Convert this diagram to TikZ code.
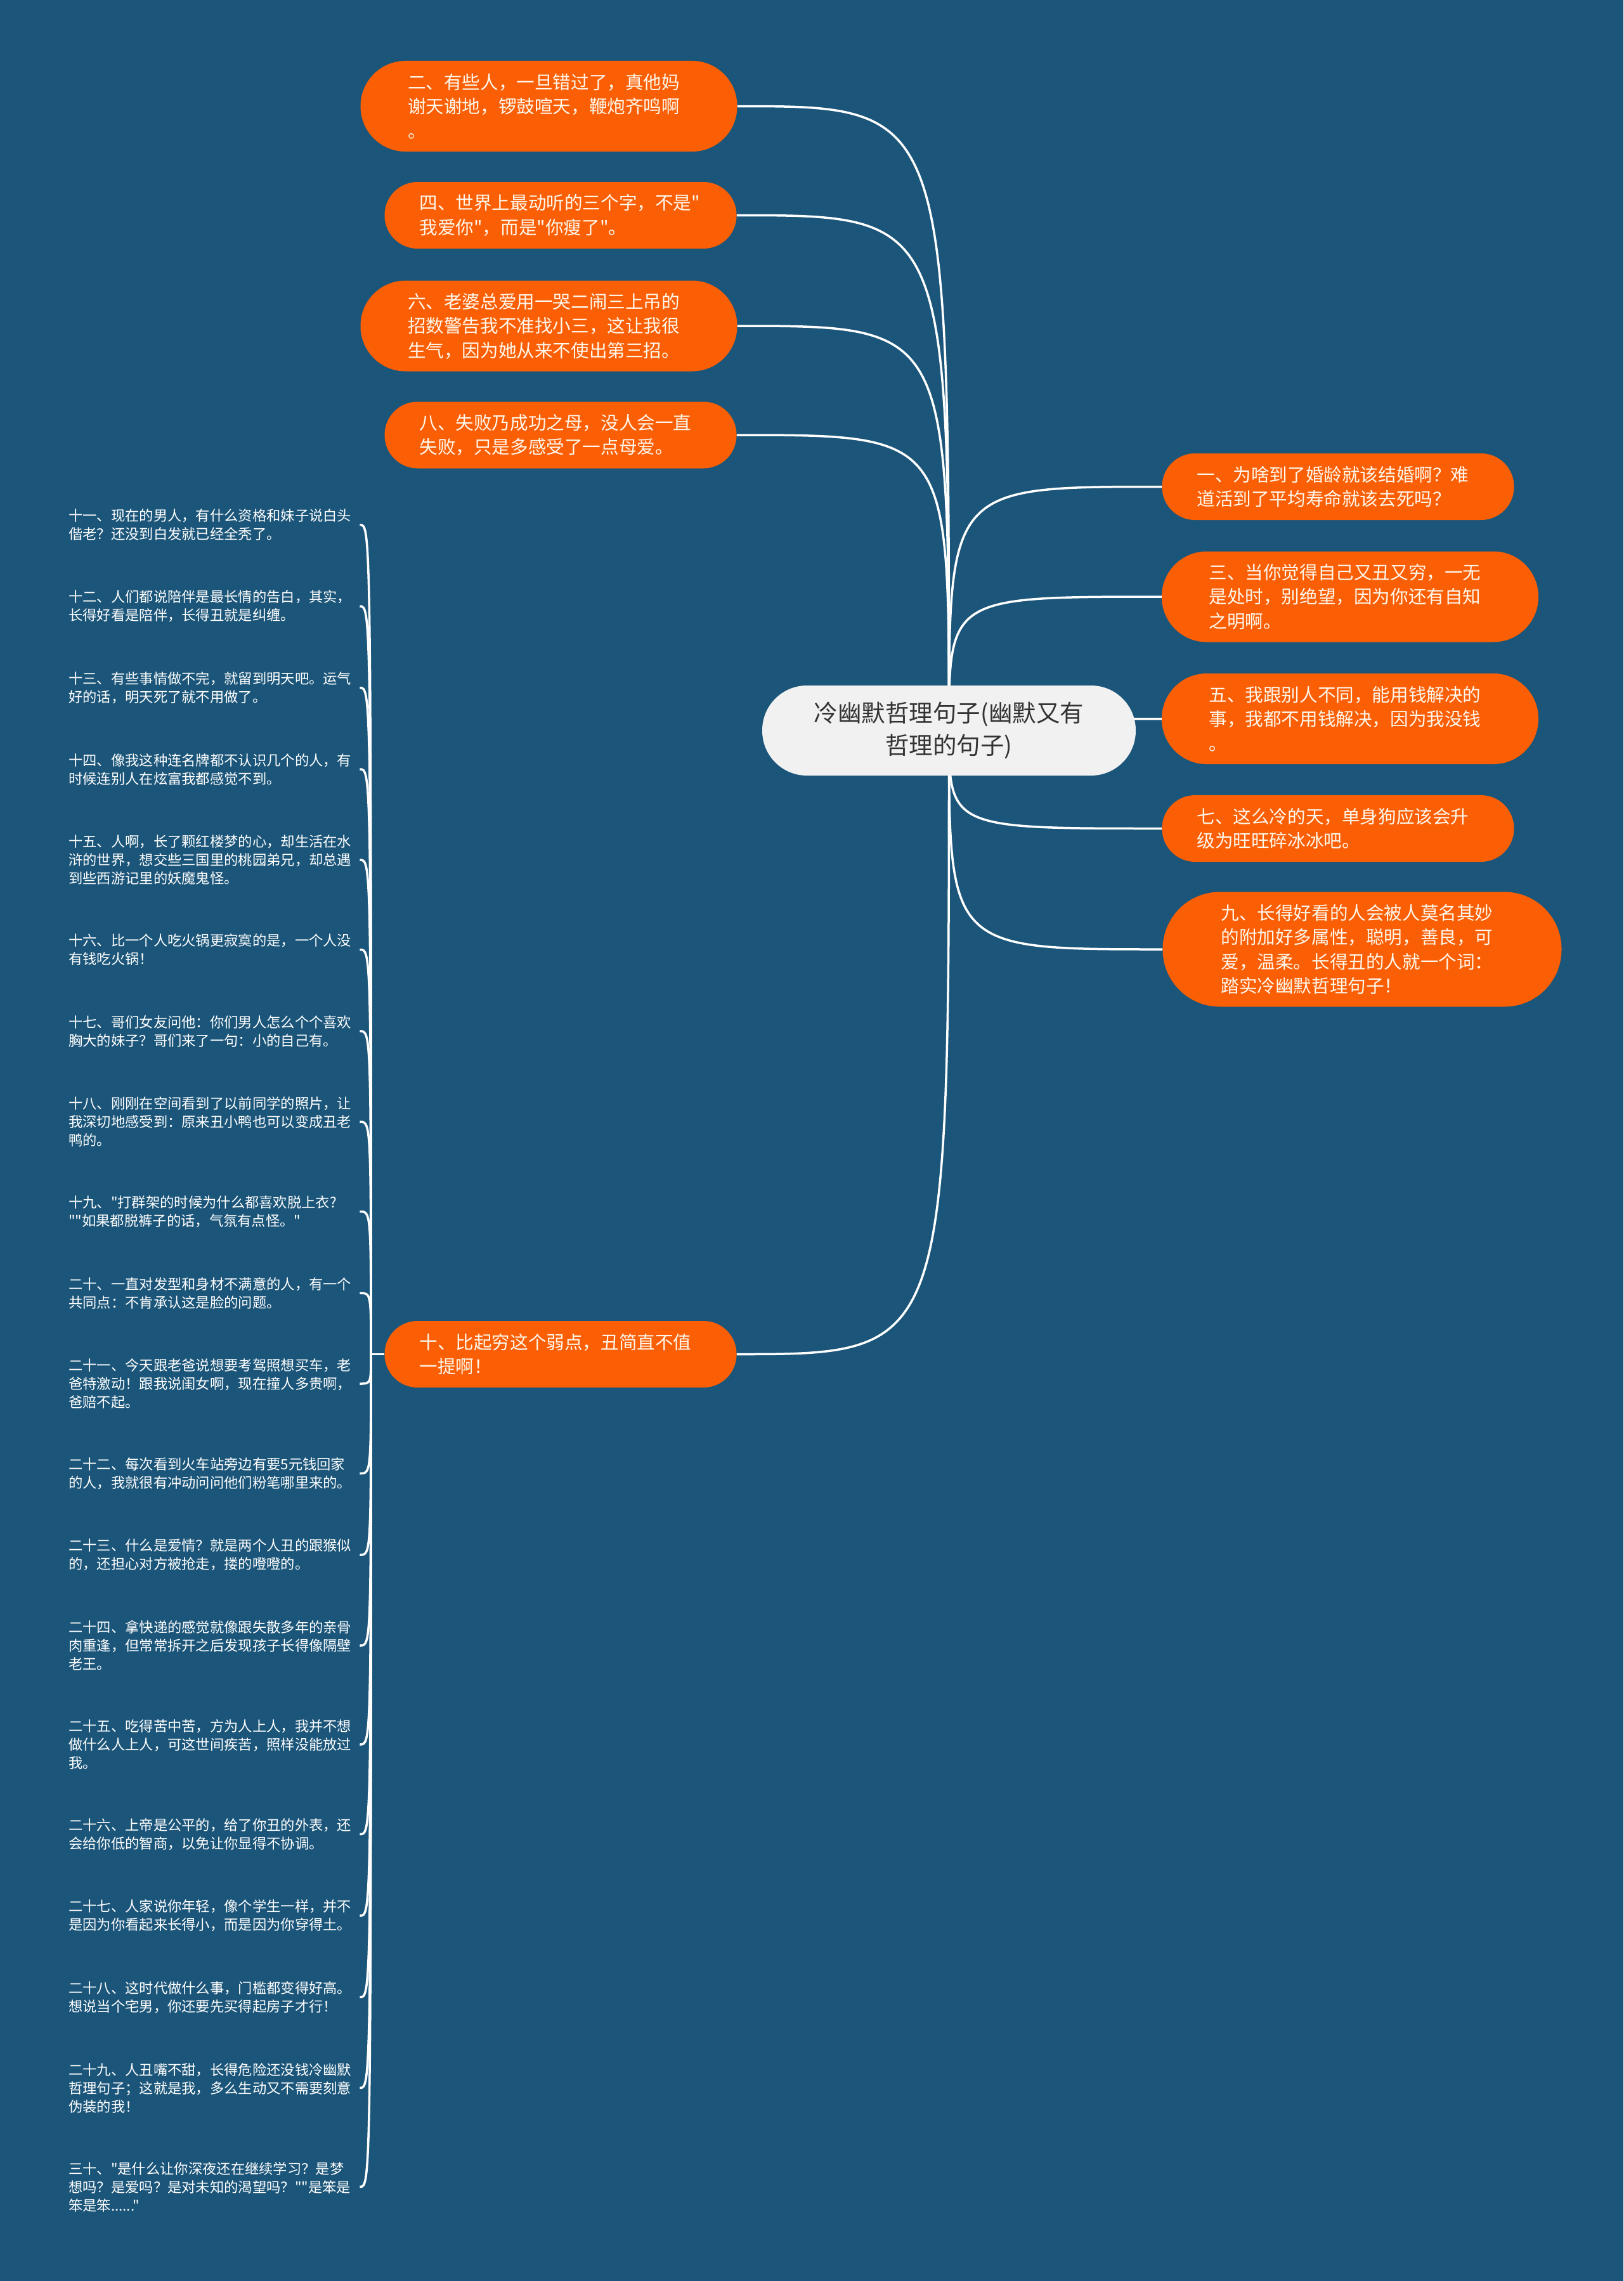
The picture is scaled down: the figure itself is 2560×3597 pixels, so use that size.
\documentclass[tikz,border=0pt]{standalone}
\usepackage{fontspec}
\setmainfont{Noto Sans CJK SC}[Ligatures=TeXOff]
\definecolor{bgblue}{HTML}{1B5579}
\definecolor{orfill}{HTML}{FA5F05}
\definecolor{ortext}{HTML}{FFF7EC}
\definecolor{cfill}{HTML}{F1F1F1}
\definecolor{ctext}{HTML}{333333}
\pgfdeclarelayer{bg}
\pgfsetlayers{bg,main}
\begin{document}
\begin{tikzpicture}[x=1pt,y=-1pt,
  obox/.style={fill=orfill, text=ortext, font=\fontsize{28.6}{38.5}\selectfont, align=left, text width=445pt, inner sep=0pt},
  oboxtwo/.style={obox, minimum width=555pt, minimum height=105pt, rounded corners=52pt},
  oboxthree/.style={obox, minimum width=594pt, minimum height=143pt, rounded corners=71pt},
  oboxfour/.style={obox, minimum width=629pt, minimum height=181pt, rounded corners=90pt},
  cbox/.style={fill=cfill, text=ctext, font=\fontsize{37.5}{51}\selectfont, align=center, text width=480pt, inner sep=0pt, minimum width=589pt, minimum height=142pt, rounded corners=70.5pt},
  item/.style={text=white, font=\fontsize{22.3}{29}\selectfont, align=left, text width=459pt, inner sep=0pt, anchor=west},
  conn/.style={draw=white, line width=3.5pt}
]
\useasboundingbox (0,0) rectangle (2560,3597);

% centre
\node[cbox] (c) at (1496.5,1152) {冷幽默哲理句子(幽默又有\\哲理的句子)};

% left upper
\node[oboxthree] (n2) at (865.5,167.5) {二、有些人，一旦错过了，真他妈\\谢天谢地，锣鼓喧天，鞭炮齐鸣啊\\。};
\node[oboxtwo] (n4) at (884,339.5) {四、世界上最动听的三个字，不是"\\我爱你"，而是"你瘦了"。};
\node[oboxthree] (n6) at (865.5,514) {六、老婆总爱用一哭二闹三上吊的\\招数警告我不准找小三，这让我很\\生气，因为她从来不使出第三招。};
\node[oboxtwo] (n8) at (884,686) {八、失败乃成功之母，没人会一直\\失败，只是多感受了一点母爱。};
\node[oboxtwo] (n10) at (884,2135.5) {十、比起穷这个弱点，丑简直不值\\一提啊！};

% right
\node[oboxtwo] (n1) at (2110,767.5) {一、为啥到了婚龄就该结婚啊？难\\道活到了平均寿命就该去死吗？};
\node[oboxthree] (n3) at (2129,941) {三、当你觉得自己又丑又穷，一无\\是处时，别绝望，因为你还有自知\\之明啊。};
\node[oboxthree] (n5) at (2129,1133.5) {五、我跟别人不同，能用钱解决的\\事，我都不用钱解决，因为我没钱\\。};
\node[oboxtwo] (n7) at (2110,1306.5) {七、这么冷的天，单身狗应该会升\\级为旺旺碎冰冰吧。};
\node[oboxfour] (n9) at (2148,1497) {九、长得好看的人会被人莫名其妙\\的附加好多属性，聪明，善良，可\\爱，温柔。长得丑的人就一个词：\\踏实冷幽默哲理句子！};

% left list
\node[item] (i11) at (108,827.5) {十一、现在的男人，有什么资格和妹子说白头\\偕老？还没到白发就已经全秃了。};
\node[item] (i12) at (108,956) {十二、人们都说陪伴是最长情的告白，其实，\\长得好看是陪伴，长得丑就是纠缠。};
\node[item] (i13) at (108,1084.5) {十三、有些事情做不完，就留到明天吧。运气\\好的话，明天死了就不用做了。};
\node[item] (i14) at (108,1213) {十四、像我这种连名牌都不认识几个的人，有\\时候连别人在炫富我都感觉不到。};
\node[item] (i15) at (108,1356) {十五、人啊，长了颗红楼梦的心，却生活在水\\浒的世界，想交些三国里的桃园弟兄，却总遇\\到些西游记里的妖魔鬼怪。};
\node[item] (i16) at (108,1497.5) {十六、比一个人吃火锅更寂寞的是，一个人没\\有钱吃火锅！};
\node[item] (i17) at (108,1626) {十七、哥们女友问他：你们男人怎么个个喜欢\\胸大的妹子？哥们来了一句：小的自己有。};
\node[item] (i18) at (108,1769) {十八、刚刚在空间看到了以前同学的照片，让\\我深切地感受到：原来丑小鸭也可以变成丑老\\鸭的。};
\node[item] (i19) at (108,1910.5) {十九、"打群架的时候为什么都喜欢脱上衣?\\""如果都脱裤子的话，气氛有点怪。"};
\node[item] (i20) at (108,2039) {二十、一直对发型和身材不满意的人，有一个\\共同点：不肯承认这是脸的问题。};
\node[item] (i21) at (108,2182) {二十一、今天跟老爸说想要考驾照想买车，老\\爸特激动！跟我说闺女啊，现在撞人多贵啊，\\爸赔不起。};
\node[item] (i22) at (108,2323.5) {二十二、每次看到火车站旁边有要5元钱回家\\的人，我就很有冲动问问他们粉笔哪里来的。};
\node[item] (i23) at (108,2452) {二十三、什么是爱情？就是两个人丑的跟猴似\\的，还担心对方被抢走，搂的噔噔的。};
\node[item] (i24) at (108,2595) {二十四、拿快递的感觉就像跟失散多年的亲骨\\肉重逢，但常常拆开之后发现孩子长得像隔壁\\老王。};
\node[item] (i25) at (108,2751) {二十五、吃得苦中苦，方为人上人，我并不想\\做什么人上人，可这世间疾苦，照样没能放过\\我。};
\node[item] (i26) at (108,2892.5) {二十六、上帝是公平的，给了你丑的外表，还\\会给你低的智商，以免让你显得不协调。};
\node[item] (i27) at (108,3021) {二十七、人家说你年轻，像个学生一样，并不\\是因为你看起来长得小，而是因为你穿得土。};
\node[item] (i28) at (108,3149.5) {二十八、这时代做什么事，门槛都变得好高。\\想说当个宅男，你还要先买得起房子才行！};
\node[item] (i29) at (108,3292.5) {二十九、人丑嘴不甜，长得危险还没钱冷幽默\\哲理句子；这就是我，多么生动又不需要刻意\\伪装的我！};
\node[item] (i30) at (108,3448.5) {三十、"是什么让你深夜还在继续学习？是梦\\想吗？是爱吗？是对未知的渴望吗？""是笨是\\笨是笨......"};

\coordinate (J) at (585,2135.5);

\begin{pgfonlayer}{bg}
\fill[bgblue] (0,0) rectangle (2560,3597);
\foreach \n in {n2,n4,n6,n8,n10}{
  \draw[conn] (\n.east) .. controls (\n.east -| c.center) .. (c.center);
}
\foreach \n in {n1,n3,n5,n7,n9}{
  \draw[conn] (\n.west) .. controls (\n.west -| c.center) .. (c.center);
}
\draw[conn] (n10.west) -- (J);
\foreach \n in {i11,i12,i13,i14,i15,i16,i17,i18,i19,i20,i21,i22,i23,i24,i25,i26,i27,i28,i29,i30}{
  \draw[conn] (J) .. controls (J |- \n.east) .. (\n.east);
}
\end{pgfonlayer}
\end{tikzpicture}
\end{document}
